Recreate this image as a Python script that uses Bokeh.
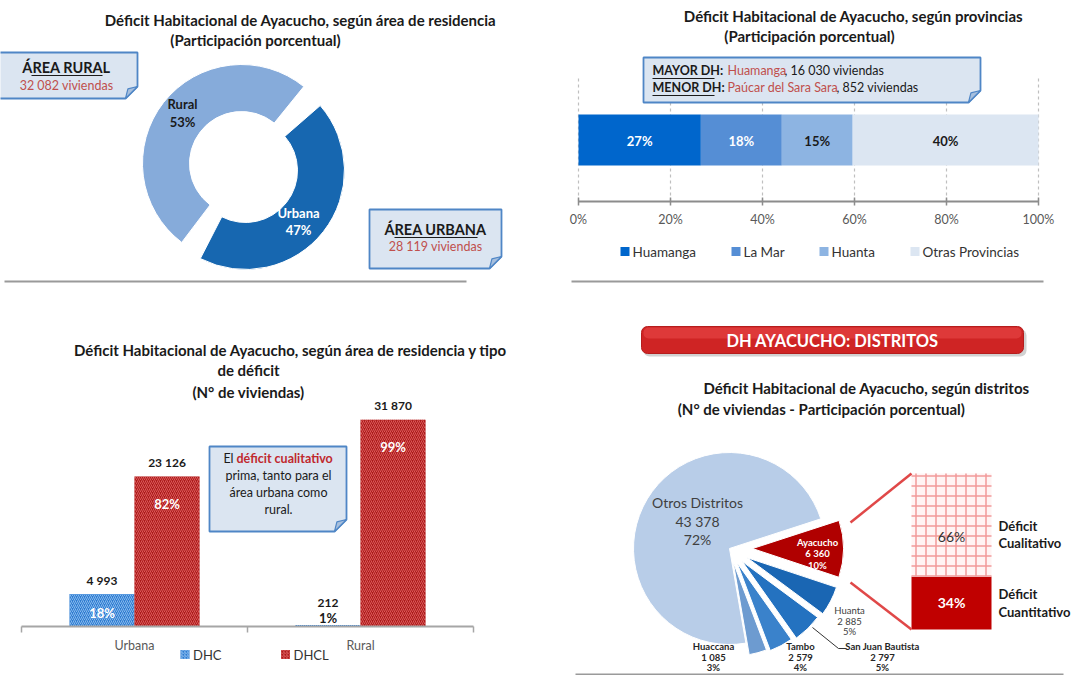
import math
from bokeh.plotting import figure
from bokeh.models import Range1d
from bokeh.embed import file_html
from bokeh.resources import INLINE
from bokeh.core.properties import value

# ---------------- DATA ----------------
area_names = ["Urbana", "Rural"]
area_viviendas = [28119, 32082]

prov_names = ["Huamanga", "La Mar", "Huanta", "Otras Provincias"]
prov_pct = [26.6, 17.6, 15.4, 40.4]
pct_ticks = [0, 20, 40, 60, 80, 100]
pct_tick_labels = ["0%", "20%", "40%", "60%", "80%", "100%"]

tipo_areas = ["Urbana", "Rural"]
tipo_series = ["DHC", "DHCL"]
dhc_viv = [4993, 212]
dhcl_viv = [23126, 31870]

dist_names = ["Ayacucho", "Huanta", "San Juan Bautista", "Tambo", "Huaccana", "Otros Distritos"]
dist_viv = [6360, 2885, 2797, 2579, 1085, 43378]
dist_pct = [10, 5, 5, 4, 3, 72]

ayac_tipos = ["Déficit Cuantitativo", "Déficit Cualitativo"]
ayac_pct = [34, 66]


def fmt(n):
    return f"{n:,}".replace(",", " ")


# ---------------- CANVAS ----------------
W, H = 1084, 675
X0, Y0 = 0, 0
FONT = "Lato"
TS = 15  # title size

# scale set-ups for the data charts (layout constants)
PCT_X0, PCT_PX = 578.0, 4.6            # provincias bar: 0% at x=578, 4.6 px per %
CAT_X0, CAT_PX = 21.0, 226.0           # tipo chart: category width in px
VIV_BASE, VIV_PX = 626.0, 150.0 / 23126  # tipo chart: baseline and px per vivienda
VU = 1.0 / VIV_PX
BAR_BASE, BAR_PX = 629.0, 1.56         # ayacucho stacked bar: px per %

p = figure(width=W, height=H, x_range=Range1d(X0, X0 + W), y_range=Range1d(Y0 + H, Y0),
           output_backend="svg", toolbar_location=None, min_border=0,
           x_axis_location=None, y_axis_location=None)
p.grid.visible = False
p.outline_line_color = None
p.background_fill_color = "white"
p.border_fill_color = "white"

p.extra_x_ranges = {
    "pct": Range1d((X0 - PCT_X0) / PCT_PX, (X0 + W - PCT_X0) / PCT_PX),
    "cat": Range1d((X0 - CAT_X0) / CAT_PX, (X0 + W - CAT_X0) / CAT_PX),
}
p.extra_y_ranges = {
    "viv": Range1d(-(Y0 + H - VIV_BASE) * VU, (VIV_BASE - Y0) * VU),
    "pc2": Range1d(-(Y0 + H - BAR_BASE) / BAR_PX, (BAR_BASE - Y0) / BAR_PX),
}


def txt(x, y, s, size=13, color="#1a1a1a", bold=False, align="center", baseline="middle",
        xr="default", yr="default"):
    p.text(x=[x], y=[y], text=[s], text_font=value(FONT), text_font_size=f"{size}px",
           text_font_style="bold" if bold else "normal", text_color=color,
           text_align=align, text_baseline=baseline, x_range_name=xr, y_range_name=yr)


def callout(l, t, r, b, fold=12):
    p.patch([l, r, r, r - fold, l], [t, t, b - fold, b, b],
            fill_color="#DBE5F1", line_color="#4F86C6", line_width=1.8)
    p.patch([r, r - fold, r - fold * 0.8], [b - fold, b, b - fold * 0.8],
            fill_color="#A7BFDD", line_color="#4F86C6", line_width=1.2)


def hline(x0, x1, y, color="#999999", w=2.0):
    p.segment(x0=[x0], x1=[x1], y0=[y], y1=[y], line_color=color, line_width=w)


# ================= PANEL 1: donut =================
txt(300, 19, "Déficit Habitacional de Ayacucho, según área de residencia", TS, bold=True)
txt(255, 39, "(Participación porcentual)", TS, bold=True)

tot_area = sum(area_viviendas)
donut_style = {"Urbana": dict(color="#1767B0", cx=245, cy=170),
               "Rural": dict(color="#86ABDA", cx=241, cy=163)}
theta = 44.0
for name, v in zip(area_names, area_viviendas):
    span = v / tot_area * 360
    s, e = theta + 5, theta + span - 5
    st = donut_style[name]
    p.annular_wedge(x=[st["cx"]], y=[st["cy"]], inner_radius=52, outer_radius=99,
                    start_angle=[90 - e], end_angle=[90 - s],
                    start_angle_units="deg", end_angle_units="deg",
                    fill_color=st["color"], line_color="white", line_width=1)
    theta += span

pcts_area = [round(v / tot_area * 100) for v in area_viviendas]
txt(182, 103, "Rural", 13, "#1a1a1a", bold=True)
txt(182, 121, f"{pcts_area[1]}%", 13, "#1a1a1a", bold=True)
txt(298, 212, "Urbana", 13, "white", bold=True)
txt(298, 229, f"{pcts_area[0]}%", 13, "white", bold=True)

callout(-2, 52, 137, 98)
txt(66, 67, "ÁREA RURAL", 14.5, "#1a1a1a", bold=True)
hline(31, 102, 75, "#1a1a1a", 1.2)
txt(66, 85, f"{fmt(area_viviendas[1])} viviendas", 12.5, "#C0504D")

callout(369, 209, 501, 268)
txt(435, 229, "ÁREA URBANA", 14.5, "#1a1a1a", bold=True)
hline(394, 477, 237, "#1a1a1a", 1.2)
txt(435, 246, f"{fmt(area_viviendas[0])} viviendas", 12.5, "#C0504D")

hline(4, 466, 281, "#9a9a9a", 2.2)

# ================= PANEL 2: provincias =================
txt(853, 15, "Déficit Habitacional de Ayacucho, según provincias", TS, bold=True)
txt(809, 35, "(Participación porcentual)", TS, bold=True)

p.segment(x0=pct_ticks, x1=pct_ticks, y0=[78] * len(pct_ticks), y1=[201] * len(pct_ticks),
          line_color="#BFBFBF", line_dash="3 3", line_width=1.2, x_range_name="pct")

prov_colors = ["#0066CC", "#558ED5", "#8DB4E2", "#DCE6F2"]
prov_lbl_colors = ["white", "white", "#1a1a1a", "#1a1a1a"]
lefts, rights = [], []
cum = 0.0
for v in prov_pct:
    lefts.append(cum)
    cum += v
    rights.append(cum)
p.hbar(y=[139.5] * 4, height=51, left=lefts, right=rights, fill_color=prov_colors,
       line_color=None, x_range_name="pct")
for l, r, v, c in zip(lefts, rights, prov_pct, prov_lbl_colors):
    txt((l + r) / 2, 140, f"{round(v)}%", 13, c, bold=True, xr="pct")

p.segment(x0=[pct_ticks[0]], x1=[pct_ticks[-1]], y0=[201], y1=[201],
          line_color="#8C8C8C", line_width=2, x_range_name="pct")
p.segment(x0=pct_ticks, x1=pct_ticks, y0=[197] * 6, y1=[205] * 6,
          line_color="#8C8C8C", line_width=1.5, x_range_name="pct")
for t, lab in zip(pct_ticks, pct_tick_labels):
    txt(t, 219, lab, 12.5, "#595959", xr="pct")

callout(643, 57, 980, 102)
txt(652, 70, "MAYOR DH:", 12.5, "#1a1a1a", bold=True, align="left")
hline(652, 714, 78, "#1a1a1a", 1.1)
txt(727, 70, "Huamanga", 12.5, "#C0504D", align="left")
txt(784, 70, ", 16 030  viviendas", 12.5, "#1a1a1a", align="left")
txt(652, 87, "MENOR DH:", 12.5, "#1a1a1a", bold=True, align="left")
hline(652, 714, 95, "#1a1a1a", 1.1)
txt(727, 87, "Paúcar del Sara Sara", 12.5, "#C0504D", align="left")
txt(836, 87, ", 852 viviendas", 12.5, "#1a1a1a", align="left")

leg_x = [620, 731, 819, 910]
p.rect(x=[x + 4.5 for x in leg_x], y=[251] * 4, width=9, height=9, fill_color=prov_colors,
       line_color=None)
for x, n in zip(leg_x, prov_names):
    txt(x + 12, 251, n, 13.5, "#333333", align="left")

hline(571, 1043, 281, "#9a9a9a", 2.2)

# ================= PANEL 3: tipo de deficit =================
txt(292, 349, "Déficit Habitacional de Ayacucho,  según área de residencia y tipo", TS, bold=True)
txt(248, 369, "de déficit", TS, bold=True)
txt(248, 391, "(N° de viviendas)", TS, bold=True)

BW = 65.0 / CAT_PX
series_vals = [dhc_viv, dhcl_viv]
series_fill = ["#2E7BD0", "#AC1A1A"]
series_hatch = ["#86BAEE", "#DA5A5A"]
series_off = [-BW / 2, BW / 2]
for vals, fc, hc, off in zip(series_vals, series_fill, series_hatch, series_off):
    xs = [i + 0.5 + off for i in range(len(tipo_areas))]
    p.vbar(x=xs, width=BW, bottom=0, top=vals, fill_color=fc, line_color=None,
           hatch_pattern="/", hatch_color=hc, hatch_scale=4, hatch_weight=1,
           x_range_name="cat", y_range_name="viv")

# axis
p.segment(x0=[0], x1=[len(tipo_areas)], y0=[VIV_BASE], y1=[VIV_BASE], line_color="#A6A6A6",
          line_width=2, x_range_name="cat")
p.segment(x0=list(range(len(tipo_areas) + 1)), x1=list(range(len(tipo_areas) + 1)),
          y0=[VIV_BASE] * 3, y1=[VIV_BASE + 6] * 3, line_color="#A6A6A6", line_width=1.5,
          x_range_name="cat")
for i, a in enumerate(tipo_areas):
    txt(i + 0.5, 645, a, 12.5, "#595959", xr="cat")

# labels
for si, (vals, off) in enumerate(zip(series_vals, series_off)):
    for i, v in enumerate(vals):
        tot = dhc_viv[i] + dhcl_viv[i]
        pc = f"{round(v / tot * 100)}%"
        x = i + 0.5 + off
        hpx = v * VIV_PX
        if hpx > 60:
            txt(x, v + 14 * VU, fmt(v), 12, "#1a1a1a", bold=True, xr="cat", yr="viv")
            txt(x, v - 27 * VU, pc, 13, "white", bold=True, xr="cat", yr="viv")
        elif hpx > 20:
            txt(x, v + 14 * VU, fmt(v), 12, "#1a1a1a", bold=True, xr="cat", yr="viv")
            txt(x, v - 19 * VU, pc, 13, "white", bold=True, xr="cat", yr="viv")
        else:
            txt(x, v + 22 * VU, fmt(v), 12, "#1a1a1a", bold=True, xr="cat", yr="viv")
            txt(x, v + 7 * VU, pc, 13, "#1a1a1a", bold=True, xr="cat", yr="viv")

# legend
for x, n, fc, hc in zip([184.5, 285], tipo_series, series_fill, series_hatch):
    p.rect(x=[x], y=[654], width=9, height=9, fill_color=fc, line_color=None,
           hatch_pattern="/", hatch_color=hc, hatch_scale=3, hatch_weight=1)
    txt(x + 8, 654, n, 13, "#333333", align="left")

callout(209, 446, 346, 531)
txt(233, 458, "El", 12.5, "#1a1a1a", align="right")
txt(236, 458, "déficit cualitativo", 12.5, "#C0282D", bold=True, align="left")
txt(278, 475, "prima, tanto para el", 12.5, "#1a1a1a")
txt(278, 492, "área urbana como", 12.5, "#1a1a1a")
txt(278, 509, "rural.", 12.5, "#1a1a1a")

# ================= PANEL 4: distritos =================
p.quad(left=[643], right=[1026], top=[329], bottom=[356], fill_color="#000000", fill_alpha=0.18,
       line_color=None, border_radius=6)
p.quad(left=[641], right=[1023], top=[326], bottom=[353], fill_color="#CF2424",
       line_color="#B51D1D", border_radius=6)
p.quad(left=[643], right=[1021], top=[327], bottom=[338], fill_color="#E84848", fill_alpha=0.6,
       line_color=None, border_radius=5)
txt(832, 340, "DH AYACUCHO: DISTRITOS", 16.5, "white", bold=True)

txt(866, 387, "Déficit Habitacional de Ayacucho, según distritos", TS, bold=True)
txt(821, 408, "(N° de viviendas - Participación porcentual)", TS, bold=True)

PCX, PCY = 729.0, 548.0
pie_style = [
    dict(color="#B00000", off=23, r=91),
    dict(color="#1A66B3", off=20, r=94),
    dict(color="#2472C0", off=18, r=94),
    dict(color="#3A82CB", off=16, r=94),
    dict(color="#6D9BD0", off=14, r=94),
    dict(color="#B8CDE8", off=0, r=96),
]
tot_pct = sum(dist_pct)
theta = 72.0
for i, (n, pc) in enumerate(zip(dist_names, dist_pct)):
    span = pc / tot_pct * 360
    mid = math.radians(theta + span / 2)
    st = pie_style[i]
    cx = PCX + st["off"] * math.sin(mid)
    cy = PCY - st["off"] * math.cos(mid)
    p.wedge(x=[cx], y=[cy], radius=st["r"], start_angle=[90 - (theta + span)],
            end_angle=[90 - theta], start_angle_units="deg", end_angle_units="deg",
            fill_color=st["color"], line_color="white", line_width=1)
    theta += span

# pie labels
txt(697, 502, dist_names[5], 14, "#404040")
txt(697, 521, fmt(dist_viv[5]), 14, "#404040")
txt(697, 539, f"{dist_pct[5]}%", 14, "#404040")
for yy, s in [(542, dist_names[0]), (553, fmt(dist_viv[0])), (565, f"{dist_pct[0]}%")]:
    txt(817, yy, s, 9.5, "white", bold=True)
small = [(849, 1, False), (882, 2, True), (800, 3, True), (713, 4, True)]
small_y = {1: 610, 2: 646, 3: 646, 4: 646}
for x, idx, b in small:
    y = small_y[idx]
    col = "#404040" if not b else "#262626"
    txt(x, y, dist_names[idx], 9.5, col, bold=b)
    txt(x, y + 11, fmt(dist_viv[idx]), 9.5, col, bold=b)
    txt(x, y + 21, f"{dist_pct[idx]}%", 9.5, col, bold=b)
p.line(x=[812, 838, 846], y=[627, 648, 648], line_color="#333333", line_width=1)

# stacked bar ayacucho
bot = 0
bottoms, tops = [], []
for v in ayac_pct:
    bottoms.append(bot)
    bot += v
    tops.append(bot)
p.vbar(x=[951], width=80, bottom=[bottoms[0]], top=[tops[0]], fill_color="#C00000",
       line_color=None, y_range_name="pc2")
p.vbar(x=[951], width=80, bottom=[bottoms[1]], top=[tops[1]], fill_color="#FFF4F4",
       line_color=None, hatch_pattern="+", hatch_color="#F29A9A", hatch_scale=10,
       hatch_weight=1.5, y_range_name="pc2")
txt(951, (bottoms[0] + tops[0]) / 2, f"{ayac_pct[0]}%", 14, "white", bold=True, yr="pc2")
txt(951, 536, f"{ayac_pct[1]}%", 14, "#333333")

top_px = BAR_BASE - tops[-1] * BAR_PX
p.segment(x0=[850, 850], y0=[522, 582], x1=[911, 911], y1=[top_px, BAR_BASE],
          line_color="#E04848", line_width=2.5)

txt(998, 525, "Déficit", 13, "#1a1a1a", bold=True, align="left")
txt(998, 542, "Cualitativo", 13, "#1a1a1a", bold=True, align="left")
txt(998, 593, "Déficit", 13, "#1a1a1a", bold=True, align="left")
txt(998, 611, "Cuantitativo", 13, "#1a1a1a", bold=True, align="left")

hline(575, 1063, 674, "#9a9a9a", 2)

open("out.html", "w").write(file_html(p, INLINE))
